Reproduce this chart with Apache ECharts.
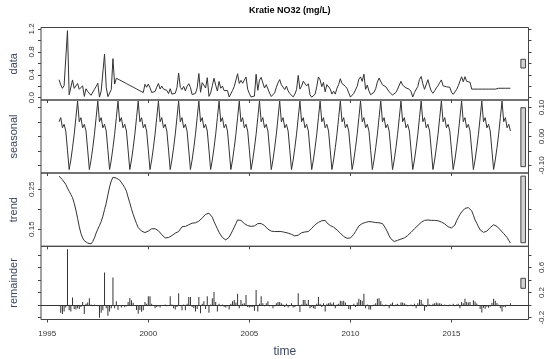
<!DOCTYPE html>
<html><head><meta charset="utf-8">
<script src="https://cdn.jsdelivr.net/npm/echarts@6/dist/echarts.min.js"></script>
<style>html,body{margin:0;padding:0;background:#fff}#c{width:550px;height:359px}</style>
</head><body><div id="c"></div>
<script>
// monthly series, first value = Aug 1995
const startYear = 1995, startMonth = 8;
const titleText = 'Kratie NO32 (mg/L)';
const panelNames = ['data', 'seasonal', 'trend', 'remainder'];
const xTickValues = [1995, 2000, 2005, 2010, 2015];

const dataValues = [
  0.314, 0.224, 0.164, 0.211, 0.241,
  1.17, 0.051, 0.056, 0.31, 0.163, 0.193, 0.249, 0.147, 0.174, 0.208, 0.023, 0.156,
  0.108, 0.109, 0.042, 0.06, 0.146, 0.195, 0.252, 0.01, 0.114, 0.132, 0.761, 0.184,
  0.019, 0.042, 0.14, 0.681, 0.238, 0.34, 0.324, 0.309, 0.293, 0.278, 0.262, 0.246,
  0.231, 0.215, 0.199, 0.184, 0.168, 0.153, 0.137, 0.121, 0.106, 0.09, 0.234, 0.182,
  0.238, 0.174, 0.09, 0.104, 0.109, 0.184, 0.248, 0.152, 0.201, 0.152, 0.18, 0.127,
  0.072, 0.157, 0.063, 0.048, 0.078, 0.177, 0.43, 0.181, 0.141, 0.197, 0.119, 0.197,
  0.244, 0.179, 0.054, 0.076, 0.074, 0.172, 0.422, 0.095, 0.263, 0.272, 0.169, 0.349,
  0.023, 0.083, 0.209, 0.34, 0.218, 0.116, 0.284, 0.166, 0.204, 0.124, 0.125, 0.125,
  0.013, 0.044, 0.125, 0.196, 0.212, 0.418, 0.249, 0.303, 0.252, 0.224, 0.363, 0.148,
  0.071, 0.013, 0.045, 0.029, 0.409, 0.129, 0.307, 0.355, 0.257, 0.169, 0.227, 0.229,
  0.08, 0.021, 0.012, 0.085, 0.182, 0.259, 0.316, 0.225, 0.218, 0.142, 0.203, 0.119,
  0.072, 0.053, 0.014, 0.064, 0.141, 0.39, 0.15, 0.202, 0.287, 0.253, 0.206, 0.243,
  0.051, 0.008, 0.026, 0.062, 0.192, 0.362, 0.311, 0.192, 0.268, 0.102, 0.228, 0.21,
  0.152, 0.063, 0.114, 0.063, 0.166, 0.229, 0.332, 0.247, 0.267, 0.199, 0.159, 0.084,
  0.011, 0.003, 0.076, 0.075, 0.199, 0.323, 0.363, 0.285, 0.411, 0.147, 0.22, 0.118,
  0.052, 0.034, 0.096, 0.158, 0.274, 0.341, 0.347, 0.225, 0.203, 0.191, 0.175, 0.102,
  0.099, 0.047, 0.018, 0.092, 0.15, 0.179, 0.287, 0.218, 0.223, 0.171, 0.156, 0.147,
  0.105, 0.012, 0.09, 0.066, 0.197, 0.318, 0.369, 0.241, 0.147, 0.172, 0.315, 0.202,
  0.115, 0.078, 0.121, 0.172, 0.209, 0.265, 0.31, 0.207, 0.239, 0.19, 0.178, 0.183,
  0.096, 0.058, 0.059, 0.142, 0.207, 0.202, 0.365, 0.279, 0.367, 0.285, 0.286, 0.27,
  0.15, 0.15, 0.15, 0.15, 0.15, 0.15, 0.15, 0.15, 0.15, 0.15, 0.15, 0.15,
  0.15, 0.15, 0.15, 0.15, 0.165, 0.165, 0.165, 0.165, 0.165, 0.165, 0.165, 0.165
];

const seasonalValues = [
  0.051, 0.065, 0.030, 0.042, 0.019,
  -0.047, -0.114, -0.081, -0.039, 0.008, 0.065, 0.122, 0.051, 0.065, 0.030, 0.042, 0.019,
  -0.047, -0.114, -0.081, -0.039, 0.008, 0.065, 0.122, 0.051, 0.065, 0.030, 0.042, 0.019,
  -0.047, -0.114, -0.081, -0.039, 0.008, 0.065, 0.122, 0.051, 0.065, 0.030, 0.042, 0.019,
  -0.047, -0.114, -0.081, -0.039, 0.008, 0.065, 0.122, 0.051, 0.065, 0.030, 0.042, 0.019,
  -0.047, -0.114, -0.081, -0.039, 0.008, 0.065, 0.122, 0.051, 0.065, 0.030, 0.042, 0.019,
  -0.047, -0.114, -0.081, -0.039, 0.008, 0.065, 0.122, 0.051, 0.065, 0.030, 0.042, 0.019,
  -0.047, -0.114, -0.081, -0.039, 0.008, 0.065, 0.122, 0.051, 0.065, 0.030, 0.042, 0.019,
  -0.047, -0.114, -0.081, -0.039, 0.008, 0.065, 0.122, 0.051, 0.065, 0.030, 0.042, 0.019,
  -0.047, -0.114, -0.081, -0.039, 0.008, 0.065, 0.122, 0.051, 0.065, 0.030, 0.042, 0.019,
  -0.047, -0.114, -0.081, -0.039, 0.008, 0.065, 0.122, 0.051, 0.065, 0.030, 0.042, 0.019,
  -0.047, -0.114, -0.081, -0.039, 0.008, 0.065, 0.122, 0.051, 0.065, 0.030, 0.042, 0.019,
  -0.047, -0.114, -0.081, -0.039, 0.008, 0.065, 0.122, 0.051, 0.065, 0.030, 0.042, 0.019,
  -0.047, -0.114, -0.081, -0.039, 0.008, 0.065, 0.122, 0.051, 0.065, 0.030, 0.042, 0.019,
  -0.047, -0.114, -0.081, -0.039, 0.008, 0.065, 0.122, 0.051, 0.065, 0.030, 0.042, 0.019,
  -0.047, -0.114, -0.081, -0.039, 0.008, 0.065, 0.122, 0.051, 0.065, 0.030, 0.042, 0.019,
  -0.047, -0.114, -0.081, -0.039, 0.008, 0.065, 0.122, 0.051, 0.065, 0.030, 0.042, 0.019,
  -0.047, -0.114, -0.081, -0.039, 0.008, 0.065, 0.122, 0.051, 0.065, 0.030, 0.042, 0.019,
  -0.047, -0.114, -0.081, -0.039, 0.008, 0.065, 0.122, 0.051, 0.065, 0.030, 0.042, 0.019,
  -0.047, -0.114, -0.081, -0.039, 0.008, 0.065, 0.122, 0.051, 0.065, 0.030, 0.042, 0.019,
  -0.047, -0.114, -0.081, -0.039, 0.008, 0.065, 0.122, 0.051, 0.065, 0.030, 0.042, 0.019,
  -0.047, -0.114, -0.081, -0.039, 0.008, 0.065, 0.122, 0.051, 0.065, 0.030, 0.042, 0.019,
  -0.047, -0.114, -0.081, -0.039, 0.008, 0.065, 0.122, 0.051, 0.065, 0.030, 0.042, 0.019
];

const trendValues = [
  0.283, 0.279, 0.274, 0.269, 0.262,
  0.253, 0.245, 0.237, 0.229, 0.215, 0.198, 0.177, 0.156, 0.139, 0.128, 0.121, 0.117,
  0.115, 0.113, 0.113, 0.119, 0.128, 0.14, 0.15, 0.159, 0.169, 0.182, 0.199, 0.215,
  0.236, 0.256, 0.271, 0.28, 0.28, 0.278, 0.276, 0.273, 0.268, 0.261, 0.254, 0.245,
  0.23, 0.216, 0.201, 0.187, 0.175, 0.164, 0.154, 0.149, 0.145, 0.143, 0.1415, 0.143,
  0.145, 0.148, 0.151, 0.1525, 0.151, 0.149, 0.146, 0.141, 0.136, 0.132, 0.128, 0.128,
  0.129, 0.131, 0.134, 0.137, 0.14, 0.142, 0.144, 0.15, 0.156, 0.157, 0.157, 0.158,
  0.161, 0.163, 0.165, 0.165, 0.166, 0.167, 0.17, 0.174, 0.178, 0.182, 0.187, 0.19,
  0.19, 0.187, 0.18, 0.169, 0.16, 0.151, 0.142, 0.135, 0.129, 0.124, 0.123, 0.126,
  0.13, 0.138, 0.146, 0.155, 0.164, 0.173, 0.177, 0.172, 0.167, 0.164, 0.161, 0.159,
  0.158, 0.157, 0.156, 0.158, 0.161, 0.164, 0.165, 0.164, 0.162, 0.159, 0.155, 0.15,
  0.147, 0.145, 0.143, 0.144, 0.144, 0.144, 0.144, 0.144, 0.143, 0.142, 0.141, 0.14,
  0.139, 0.137, 0.135, 0.133, 0.133, 0.135, 0.138, 0.141, 0.142, 0.143, 0.144, 0.144,
  0.148, 0.152, 0.157, 0.161, 0.164, 0.167, 0.169, 0.171, 0.173, 0.172, 0.166, 0.161,
  0.159, 0.157, 0.155, 0.152, 0.148, 0.144, 0.14, 0.136, 0.1315, 0.129, 0.127, 0.125,
  0.128, 0.132, 0.137, 0.144, 0.151, 0.158, 0.161, 0.164, 0.166, 0.167, 0.168, 0.169,
  0.169, 0.168, 0.167, 0.1665, 0.166, 0.166, 0.165, 0.164, 0.158, 0.151, 0.143, 0.133,
  0.126, 0.121, 0.119, 0.121, 0.122, 0.124, 0.125, 0.127, 0.128, 0.131, 0.134, 0.138,
  0.142, 0.146, 0.151, 0.155, 0.159, 0.163, 0.167, 0.17, 0.172, 0.172, 0.173, 0.173,
  0.172, 0.172, 0.172, 0.171, 0.171, 0.17, 0.168, 0.166, 0.163, 0.16, 0.156, 0.154,
  0.153, 0.152, 0.16, 0.171, 0.179, 0.187, 0.193, 0.198, 0.202, 0.205, 0.204, 0.201,
  0.196, 0.185, 0.173, 0.165, 0.156, 0.148, 0.145, 0.142, 0.142, 0.145, 0.15, 0.154,
  0.158, 0.161, 0.16, 0.157, 0.152, 0.148, 0.144, 0.139, 0.135, 0.129, 0.122, 0.115
];

const remainderValues = [
  -0.02, -0.12, -0.14, -0.10, -0.04,
  0.89, -0.08, -0.10, 0.12, -0.06, -0.07, -0.05, -0.06, -0.03, 0.05, -0.14, 0.02,
  0.04, 0.11, 0.01, -0.02, 0.01, -0.01, -0.02, -0.20, -0.12, -0.08, 0.52, -0.05,
  -0.17, -0.10, -0.05, 0.44, -0.05, 0.06, -0.074, -0.015, -0.04, -0.013, -0.034, -0.018,
  0.048, 0.113, 0.079, 0.036, -0.015, -0.076, -0.139, -0.079, -0.104, -0.083, 0.05, 0.02,
  0.14, 0.14, 0.02, -0.01, -0.05, -0.03, -0.02, -0.04, 0.0, -0.01, 0.01, -0.02,
  -0.01, 0.14, 0.01, -0.05, -0.07, -0.03, 0.19, -0.02, -0.08, 0.01, -0.08, 0.02,
  0.13, 0.13, -0.03, -0.05, -0.10, -0.06, 0.13, -0.13, 0.02, 0.06, -0.06, 0.14,
  -0.12, 0.01, 0.11, 0.21, 0.05, -0.10, 0.02, -0.02, 0.01, -0.03, -0.04, -0.02,
  -0.07, 0.02, 0.06, 0.08, 0.04, 0.18, -0.05, 0.08, 0.02, 0.03, 0.16, -0.03,
  -0.04, -0.03, -0.03, -0.09, 0.24, -0.10, 0.02, 0.14, 0.03, -0.02, 0.03, 0.06,
  -0.02, -0.01, -0.05, -0.02, 0.03, 0.05, 0.05, 0.03, 0.01, -0.03, 0.02, -0.04,
  -0.02, 0.03, -0.04, -0.03, 0.0, 0.19, -0.11, 0.01, 0.08, 0.08, 0.02, 0.08,
  -0.05, -0.03, -0.05, -0.06, 0.02, 0.13, 0.02, -0.03, 0.03, -0.10, 0.02, 0.03,
  0.04, 0.02, 0.04, -0.05, 0.01, 0.02, 0.07, 0.06, 0.07, 0.04, -0.01, -0.06,
  -0.07, -0.015, 0.02, -0.03, 0.04, 0.10, 0.08, 0.07, 0.18, -0.05, 0.01, -0.07,
  -0.07, -0.02, 0.01, 0.03, 0.10, 0.11, 0.06, 0.01, -0.02, 0.01, -0.01, -0.05,
  0.02, 0.04, -0.02, 0.01, 0.02, -0.01, 0.04, 0.04, 0.03, 0.01, -0.02, -0.01,
  0.01, -0.02, 0.02, -0.05, 0.03, 0.09, 0.08, 0.02, -0.09, -0.03, 0.10, 0.01,
  -0.01, 0.02, 0.03, 0.04, 0.03, 0.03, 0.02, -0.01, 0.01, 0.0, -0.02, 0.01,
  -0.01, 0.02, -0.02, 0.01, 0.02, -0.05, 0.05, 0.03, 0.10, 0.05, 0.04, 0.05,
  0.001, 0.079, 0.058, 0.024, -0.014, -0.063, -0.117, -0.043, -0.057, -0.025, -0.042, -0.023,
  0.039, 0.103, 0.071, 0.032, 0.005, -0.048, -0.101, -0.025, -0.035, 0.006, 0.001, 0.031
];

// axis ticks and tick labels per panel
const dataTicks = [0, 0.2, 0.4, 0.6, 0.8, 1.0, 1.2];
const dataTickLabels = [0, 0.4, 0.8, 1.2];
const seasonalTicks = [-0.1, -0.05, 0, 0.05, 0.1];
const seasonalTickLabels = [-0.1, 0, 0.1];
const trendTicks = [0.15, 0.2, 0.25];
const trendTickLabels = [0.15, 0.25];
const remainderTicks = [-0.2, 0, 0.2, 0.4, 0.6, 0.8];
const remainderTickLabels = [-0.2, 0.2, 0.6];
// range bar extents (low, high) per panel
const rangeBarLow = [0.518, -0.104, 0.116, 0.267];
const rangeBarHigh = [0.67, 0.0993, 0.283, 0.427];

const times = dataValues.map((_, i) => startYear + (startMonth - 1 + i) / 12);
const pair = arr => arr.map((v, i) => [times[i], v]);

const FONT = 'Liberation Sans, Arial, Helvetica, sans-serif';
const INK = '#333';
const FRAME = '#444';
const TITLE_COL = '#3c4760';

const xMin = 1994.69, xMax = 2018.81;
const dx = (xMax - xMin) / 64;

const panels = [
  { vals: dataValues, min: -0.04, max: 1.225, ticks: dataTicks, labels: dataTickLabels, dec: 1, side: 'left', type: 'line' },
  { vals: seasonalValues, min: -0.1259, max: 0.1259, ticks: seasonalTicks, labels: seasonalTickLabels, dec: 2, side: 'right', type: 'line' },
  { vals: trendValues, min: 0.107, max: 0.2908, ticks: trendTicks, labels: trendTickLabels, dec: 2, side: 'left', type: 'line' },
  { vals: remainderValues, min: -0.229, max: 0.936, ticks: remainderTicks, labels: remainderTickLabels, dec: 1, side: 'right', type: 'bar' }
];
const gridBoxes = [
  { top: 27.5, height: 72.5 },
  { top: 100, height: 73 },
  { top: 173, height: 73.3 },
  { top: 246.3, height: 73.2 }
];

const grids = gridBoxes.map(g => ({
  left: 41, right: 21.5, top: g.top, height: g.height,
  show: true, borderColor: FRAME, borderWidth: 1, backgroundColor: 'transparent'
}));

const xAxes = panels.map((p, i) => {
  const ax = {
    type: 'value', gridIndex: i, min: xMin, max: xMax, position: 'bottom',
    axisLine: { show: false, onZero: false },
    splitLine: { show: false },
    axisTick: { show: true, inside: false, length: 3, customValues: xTickValues, lineStyle: { color: FRAME, width: 1 } },
    axisLabel: { show: false }
  };
  if (i === 3) {
    ax.axisLabel = { show: true, customValues: xTickValues, fontSize: 8, color: INK, fontFamily: FONT, margin: 10, formatter: v => String(Math.round(v)) };
    ax.name = 'time'; ax.nameLocation = 'middle'; ax.nameGap = 26;
    ax.nameTextStyle = { fontSize: 12, color: TITLE_COL, fontFamily: FONT };
  }
  return ax;
});

const yAxes = [];
panels.forEach((p, i) => {
  ['left', 'right'].forEach(pos => {
    const ax = {
      type: 'value', gridIndex: i, position: pos, min: p.min, max: p.max,
      axisLine: { show: false, onZero: false },
      splitLine: { show: false },
      axisTick: { show: true, inside: false, length: 3, customValues: p.ticks, lineStyle: { color: FRAME, width: 1 } },
      axisLabel: { show: false }
    };
    if (pos === p.side) {
      ax.axisLabel = {
        show: true, customValues: p.labels, rotate: 90, fontSize: 8, color: INK, fontFamily: FONT,
        margin: pos === 'left' ? 5 : 9, formatter: v => Number(v).toFixed(p.dec)
      };
    }
    if (pos === 'left') {
      ax.name = panelNames[i]; ax.nameLocation = 'middle'; ax.nameRotate = 90; ax.nameGap = 22;
      ax.nameTextStyle = { fontSize: 11, color: TITLE_COL, fontFamily: FONT };
    }
    yAxes.push(ax);
  });
});

const series = panels.map((p, i) => {
  const s = {
    type: p.type, xAxisIndex: i, yAxisIndex: 2 * i, data: pair(p.vals),
    silent: true, animation: false,
    markArea: {
      silent: true, label: { show: false },
      itemStyle: { color: '#d3d3d3', borderColor: FRAME, borderWidth: 1 },
      data: [[{ xAxis: xMax - dx, yAxis: rangeBarLow[i] }, { xAxis: xMax - 0.4 * dx, yAxis: rangeBarHigh[i] }]]
    }
  };
  if (p.type === 'line') {
    s.showSymbol = false; s.symbol = 'none';
    s.lineStyle = { color: INK, width: 1 };
  } else {
    s.barWidth = 1;
    s.itemStyle = { color: INK };
    s.markLine = {
      silent: true, symbol: ['none', 'none'], label: { show: false },
      lineStyle: { color: INK, type: 'solid', width: 1 },
      data: [{ yAxis: 0 }]
    };
  }
  return s;
});

const chart = echarts.init(document.getElementById('c'), null, { renderer: 'canvas' });
chart.setOption({
  animation: false,
  backgroundColor: '#fff',
  title: {
    text: titleText, left: 284.75, top: 1, textAlign: 'center',
    textStyle: { fontSize: 9, fontWeight: 'bold', color: '#000', fontFamily: FONT }
  },
  grid: grids,
  xAxis: xAxes,
  yAxis: yAxes,
  series: series
});
</script>
</body></html>
